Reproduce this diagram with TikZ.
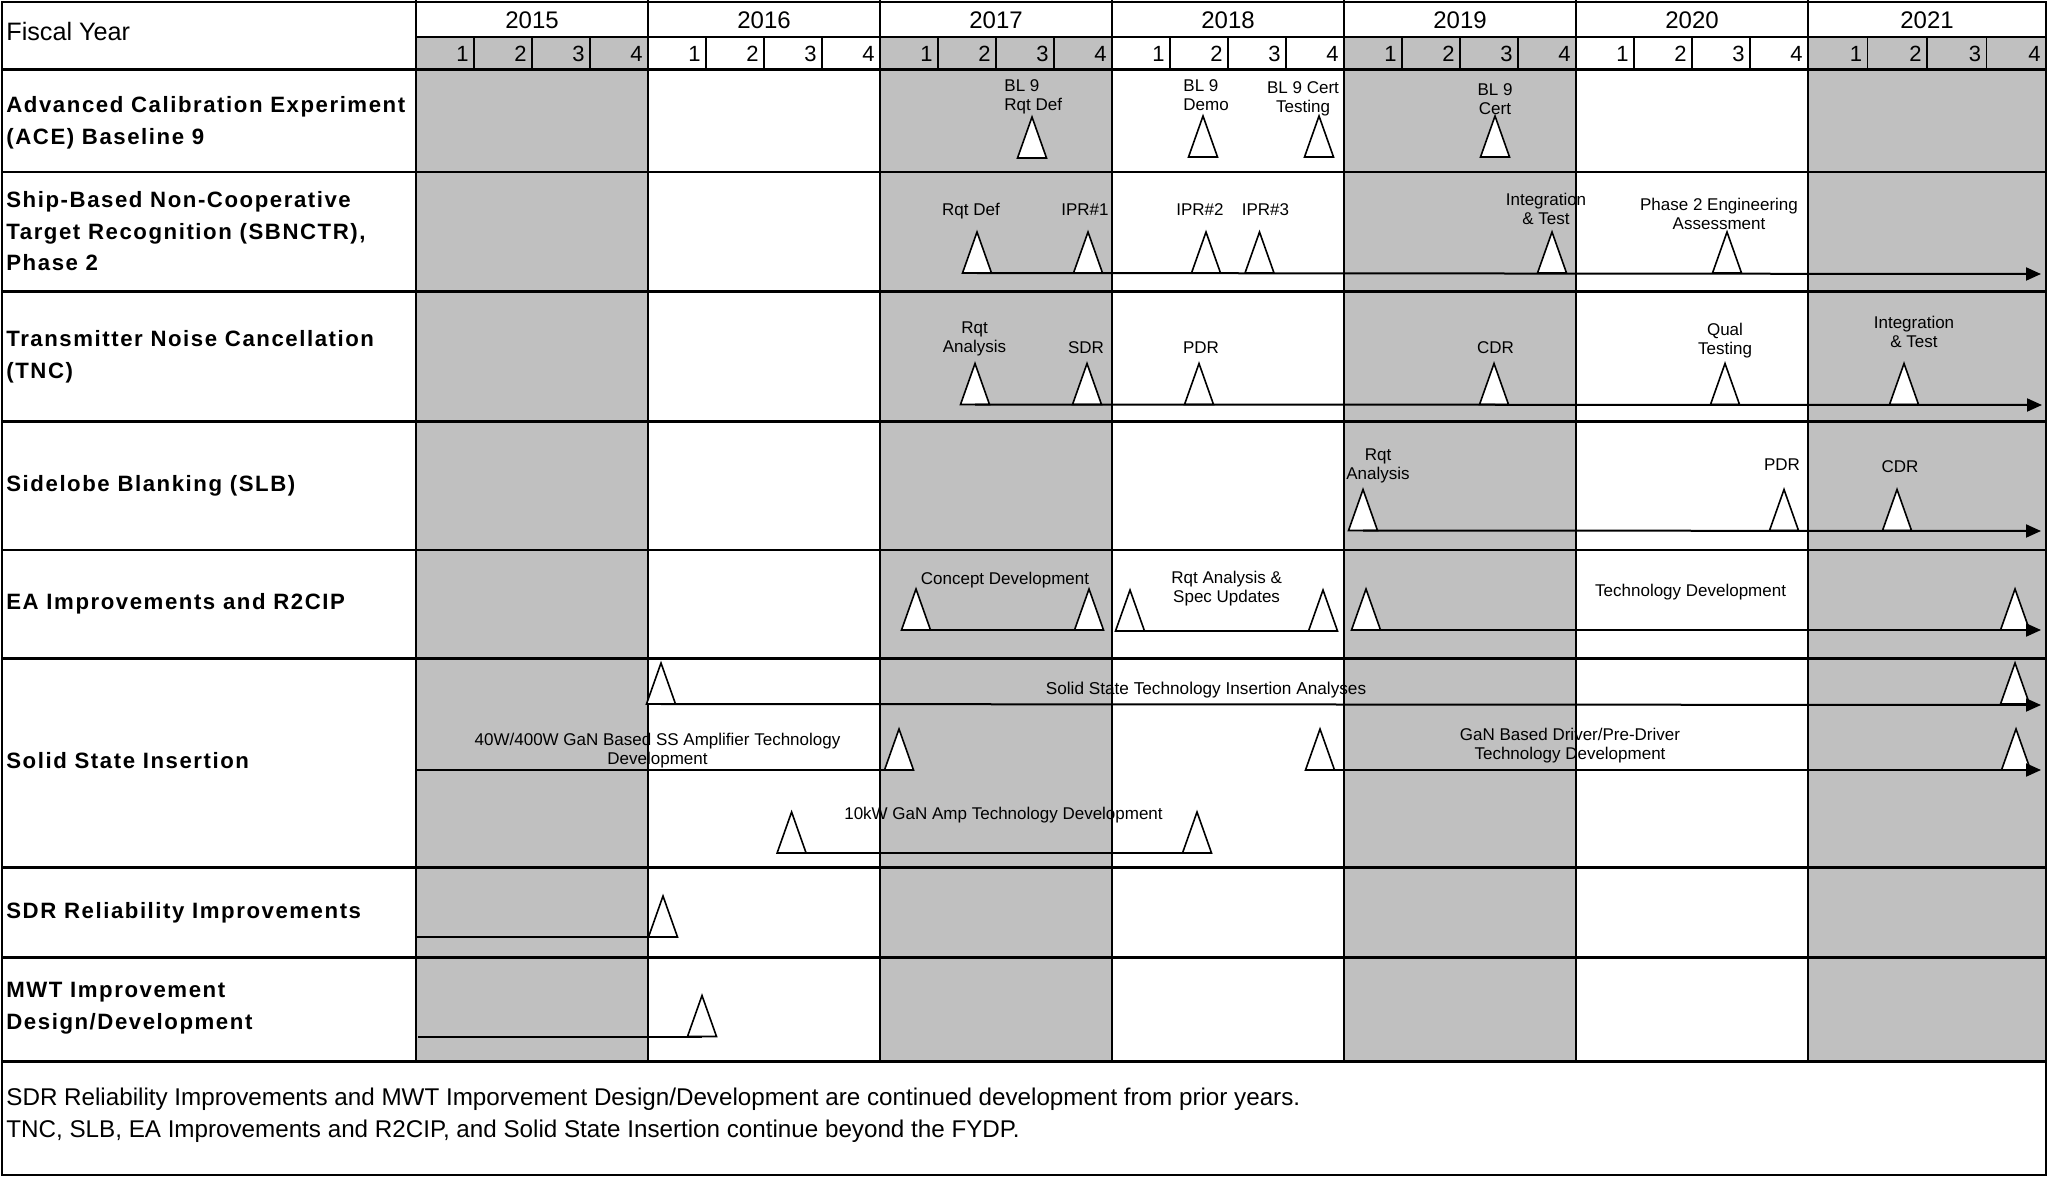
\documentclass[tikz,border=0pt]{standalone}
\usepackage{fontspec}
\setmainfont{Liberation Sans}
\newfontfamily\rowfont[LetterSpace=7]{Liberation Sans}
\usetikzlibrary{arrows.meta, positioning, shapes.geometric}
\definecolor{yearshade}{HTML}{C0C0C0}

\begin{document}
\begin{tikzpicture}[
        x=0.5pt, y=-0.5pt,
        gridline/.style={line width=0.9pt},
        rowline/.style={line width=1.3pt},
        quarterline/.style={line width=0.6pt},
        yearlabel/.style={inner sep=0pt, font=\fontsize{12}{14}\selectfont},
        quarterlabel/.style={anchor=east, inner sep=0pt, font=\fontsize{11}{13}\selectfont},
        rowlabel/.style={
            anchor=west,
            align=left,
            inner sep=0pt,
            font=\rowfont\bfseries\fontsize{11.1}{15.75}\selectfont
        },
        mstone/.style={
            draw,
            fill=white,
            line width=0.8pt,
            isosceles triangle,
            isosceles triangle stretches,
            shape border rotate=90,
            minimum width=14.5pt,
            minimum height=20.5pt,
            inner sep=0pt,
            outer sep=0pt,
            anchor=south
        },
        mlabel/.style={anchor=north, align=center, inner sep=0pt, font=\fontsize{8.5}{9.5}\selectfont},
        track/.style={line width=1pt},
        trackarrow/.style={track, -{Triangle[length=7.5pt, width=6.5pt]}}
    ]
        \useasboundingbox (0,0) rectangle (2049,1178);

        % shaded fiscal years
        \foreach \xa/\xb in {416/648, 880/1112, 1344/1576, 1808/2046}
            \fill[yearshade] (\xa,37.3) rectangle (\xb,1061.7);

        % header
        \node[yearlabel, anchor=west, font=\fontsize{12.6}{14}\selectfont] (fiscal) at (6,31) {Fiscal Year};
        \foreach \yr/\xa/\xb in {2015/416/648, 2016/648/880, 2017/880/1112, 2018/1112/1344,
                                 2019/1344/1576, 2020/1576/1808, 2021/1808/2046} {
            \node[yearlabel] (fy\yr) at ({(\xa+\xb)/2},20) {\yr};
            \foreach \q in {1,...,4}
                \node[quarterlabel] (q\yr-\q) at ({\xa+(\xb-\xa)*\q/4-5},53.5) {\q};
            \foreach \q in {1,2,3}
                \draw[quarterline] ({\xa+(\xb-\xa)*\q/4},37.3) -- ++(0,32);
        }

        % grid
        \foreach \x in {416, 648, 880, 1112, 1344, 1576, 1808}
            \draw[gridline] (\x,0) -- (\x,1061.7);
        \draw[gridline] (416,37.3) -- (2046,37.3);
        \foreach \y in {69.3, 172, 291.7, 421.7, 550, 658.3, 867.7, 957.7, 1061.7}
            \draw[rowline] (2,\y) -- (2046,\y);
        \draw[rowline] (2,2) rectangle (2046,1175);

        % row labels
        \node[rowlabel] (ace) at (6,123) {Advanced Calibration Experiment\\(ACE) Baseline 9};
        \node[rowlabel] (sbnctr) at (6,231.5) {Ship-Based Non-Cooperative\\Target Recognition (SBNCTR),\\Phase 2};
        \node[rowlabel] (tnc) at (6,357) {Transmitter Noise Cancellation\\(TNC)};
        \node[rowlabel] (slb) at (6,485.5) {Sidelobe Blanking (SLB)};
        \node[rowlabel] (ea) at (6,604) {EA Improvements and R2CIP};
        \node[rowlabel] (ssi) at (6,761) {Solid State Insertion};
        \node[rowlabel] (sdr) at (6,912.5) {SDR Reliability Improvements};
        \node[rowlabel] (mwt) at (6,1008) {MWT Improvement\\Design/Development};

        % ACE Baseline 9
        \node[mstone] (aceRqt) at (1032,158) {};
        \node[mstone] (aceDemo) at (1203,157) {};
        \node[mstone] (aceTest) at (1319,157) {};
        \node[mstone] (aceCert) at (1495,157) {};
        \node[mlabel, anchor=north west, align=left] (aceRqtL) at (1004,79) {BL 9\\Rqt Def};
        \node[mlabel, anchor=north west, align=left] (aceDemoL) at (1183,79) {BL 9\\Demo};
        \node[mlabel] (aceTestL) at (1303,81) {BL 9 Cert\\Testing};
        \node[mlabel] (aceCertL) at (1495,83) {BL 9\\Cert};

        % SBNCTR
        \node[mstone] (sbRqt) at (977,273) {};
        \node[mstone] (sbIprA) at (1088,273) {};
        \node[mstone] (sbIprB) at (1206,273) {};
        \node[mstone] (sbIprC) at (1259.5,273) {};
        \node[mstone] (sbInt) at (1552,273) {};
        \node[mstone] (sbEng) at (1727,273) {};
        \coordinate (sbEnd) at (2041,274);
        \draw[trackarrow] (sbRqt.south) -- (sbEnd);
        \node[mlabel] (sbRqtL) at (971,203) {Rqt Def};
        \node[mlabel] (sbIprAL) at (1085,203) {IPR\#1};
        \node[mlabel] (sbIprBL) at (1200,203) {IPR\#2};
        \node[mlabel] (sbIprCL) at (1265.5,203) {IPR\#3};
        \node[mlabel] (sbIntL) at (1546,193) {Integration\\\& Test};
        \node[mlabel] (sbEngL) at (1719,198) {Phase 2 Engineering\\Assessment};

        % TNC
        \node[mstone] (tncRqt) at (975,404.5) {};
        \node[mstone] (tncSdr) at (1087,404.5) {};
        \node[mstone] (tncPdr) at (1199,404.5) {};
        \node[mstone] (tncCdr) at (1494,404.5) {};
        \node[mstone] (tncQual) at (1725,404.5) {};
        \node[mstone] (tncInt) at (1904,404.5) {};
        \coordinate (tncEnd) at (2042,405);
        \draw[trackarrow] (tncRqt.south) -- (tncEnd);
        \node[mlabel] (tncRqtL) at (974.5,321.7) {Rqt\\Analysis};
        \node[mlabel] (tncSdrL) at (1086,341.7) {SDR};
        \node[mlabel] (tncPdrL) at (1201,341.7) {PDR};
        \node[mlabel] (tncCdrL) at (1495.5,341.7) {CDR};
        \node[mlabel] (tncQualL) at (1725,323) {Qual\\Testing};
        \node[mlabel] (tncIntL) at (1914,316) {Integration\\\& Test};

        % SLB
        \node[mstone] (slbRqt) at (1363,530.5) {};
        \node[mstone] (slbPdr) at (1784,530.5) {};
        \node[mstone] (slbCdr) at (1897,530.5) {};
        \coordinate (slbEnd) at (2041,531);
        \draw[trackarrow] (slbRqt.south) -- (slbEnd);
        \node[mlabel] (slbRqtL) at (1378,448) {Rqt\\Analysis};
        \node[mlabel] (slbPdrL) at (1782,458) {PDR};
        \node[mlabel] (slbCdrL) at (1900,460) {CDR};

        % EA Improvements and R2CIP
        \node[mstone] (eaConA) at (916,630) {};
        \node[mstone] (eaConB) at (1089,630) {};
        \node[mstone] (eaSpecA) at (1130,631) {};
        \node[mstone] (eaSpecB) at (1323,631) {};
        \node[mstone] (eaTechA) at (1366,630) {};
        \node[mstone] (eaTechB) at (2015,630) {};
        \coordinate (eaEnd) at (2041,630);
        \draw[track] (eaConA.south) -- (eaConB.south);
        \draw[track] (eaSpecA.south) -- (eaSpecB.south);
        \draw[trackarrow] (eaTechA.south) -- (eaEnd);
        \node[mlabel] (eaConL) at (1005,571.7) {Concept Development};
        \node[mlabel] (eaSpecL) at (1226.6,571) {Rqt Analysis \&\\Spec Updates};
        \node[mlabel] (eaTechL) at (1690.6,584) {Technology Development};

        % Solid State Insertion
        \node[mstone] (ssiAnaA) at (661,704) {};
        \node[mstone] (ssiAnaB) at (2015,704) {};
        \coordinate (ssiAnaEnd) at (2041,705);
        \draw[trackarrow] (ssiAnaA.south) -- (ssiAnaEnd);
        \node[mlabel, font=\fontsize{8.6}{9.5}\selectfont] (ssiAnaL) at (1206,681.7) {Solid State Technology Insertion Analyses};

        \coordinate (ssiAmpStart) at (416,770);
        \node[mstone] (ssiAmpB) at (899,770) {};
        \draw[track] (ssiAmpStart) -- (ssiAmpB.south);
        \node[mlabel] (ssiAmpL) at (657.5,733) {40W/400W GaN Based SS Amplifier Technology\\Development};

        \node[mstone] (ssiDrvA) at (1320,770) {};
        \node[mstone] (ssiDrvB) at (2016,770) {};
        \coordinate (ssiDrvEnd) at (2041,770);
        \draw[trackarrow] (ssiDrvA.south) -- (ssiDrvEnd);
        \node[mlabel] (ssiDrvL) at (1570,727.7) {GaN Based Driver/Pre-Driver\\Technology Development};

        \node[mstone] (ssiKwA) at (791.6,853) {};
        \node[mstone] (ssiKwB) at (1197,853) {};
        \draw[track] (ssiKwA.south) -- (ssiKwB.south);
        \node[mlabel] (ssiKwL) at (1003.5,806.7) {10kW GaN Amp Technology Development};

        % SDR Reliability Improvements
        \coordinate (sdrStart) at (416,937);
        \node[mstone] (sdrRel) at (663,937) {};
        \draw[track] (sdrStart) -- (sdrRel.south);

        % MWT Improvement
        \coordinate (mwtStart) at (418,1036.5);
        \node[mstone] (mwtDev) at (702,1036.5) {};
        \draw[track] (mwtStart) -- (mwtDev.south);

        % footnote
        \node[anchor=west, align=left, inner sep=0pt, font=\fontsize{12.1}{15.75}\selectfont] (note) at (6,1115)
            {SDR Reliability Improvements and MWT Imporvement Design/Development are continued development from prior years.\\
             TNC, SLB, EA Improvements and R2CIP, and Solid State Insertion continue beyond the FYDP.};
    \end{tikzpicture}
\end{document}
